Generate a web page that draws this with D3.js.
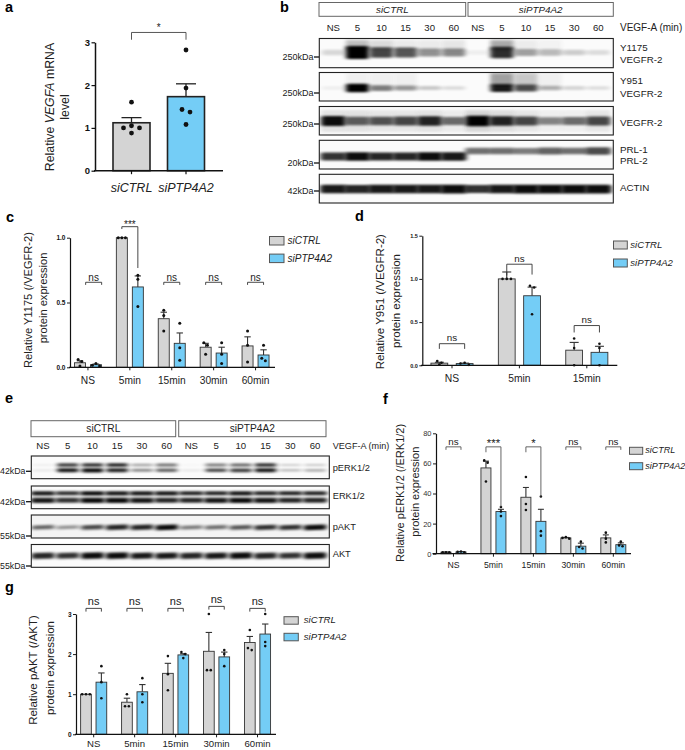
<!doctype html>
<html lang="en">
<head>
<meta charset="utf-8" />
<title>Figure</title>
<style>
    html, body { margin: 0; background: #fff; }
    svg { display: block; }
    text { font-family: "Liberation Sans", Arial, sans-serif; fill: #222; }
</style>
<script src="https://cdnjs.cloudflare.com/ajax/libs/d3/7.8.5/d3.min.js"></script>
</head>
<body>
<svg id="fig" width="685" height="750"></svg>
<script>
const series = ["siCTRL", "siPTP4A2"];
const lanes = ["NS", "5", "10", "15", "30", "60", "NS ", "5 ", "10 ", "15 ", "30 ", "60 "];
const timesLong = ["NS", "5min", "15min", "30min", "60min"];
const timesShort = ["NS", "5min", "15min"];

// panel a
const aMeans = [1.12, 1.73];
const aErr = [0.12, 0.3];
const aPoints = [[1.6, 1.05, 1.0, 1.0, 0.88], [2.82, 1.93, 1.43, 1.37, 1.08]];
const aSig = ["*"];
const aSigTop = [3.23];
const aSigLeft = [3.06];
const aSigRight = [3.06];

// panel c
const cCtrl = [0.035, 1.0, 0.375, 0.155, 0.165];
const cSi = [0.02, 0.62, 0.185, 0.11, 0.095];
const cCtrlErr = [0.015, 0, 0.05, 0.03, 0.07];
const cSiErr = [0.005, 0.085, 0.08, 0.045, 0.04];
const cCtrlPts = [[0.06, 0.045, 0.01], [1, 1, 1], [0.44, 0.4, 0.28], [0.19, 0.17, 0.1], [0.28, 0.17, 0.04]];
const cSiPts = [[0.03, 0.015, 0.01], [0.71, 0.68, 0.47], [0.34, 0.15, 0.055], [0.19, 0.1, 0.03], [0.17, 0.07, 0.05]];
const cSig = ["ns", "***", "ns", "ns", "ns"];
const cSigTop = [0.656, 1.085, 0.656, 0.656, 0.656];
const cSigLeft = [0.636, 1.067, 0.636, 0.636, 0.636];
const cSigRight = [0.636, 0.766, 0.636, 0.636, 0.636];

// panel d
const dCtrl = [0.025, 1.0, 0.175];
const dSi = [0.02, 0.805, 0.15];
const dCtrlErr = [0.01, 0.08, 0.09];
const dSiErr = [0.005, 0.1, 0.07];
const dCtrlPts = [[0.05, 0.03, 0.01], [1, 1, 1], [0.31, 0.2, 0]];
const dSiPts = [[0.03, 0.02, 0.005], [0.92, 0.9, 0.59], [0.25, 0.2, 0]];
const dSig = ["ns", "ns", "ns"];
const dSigTop = [0.25, 1.17, 0.46];
const dSigLeft = [0.19, 1.04, 0.38];
const dSigRight = [0.19, 1.05, 0.38];

// panel f
const fCtrl = [1, 57, 37.5, 10.5, 10.5];
const fSi = [1.2, 28, 21.5, 5, 6];
const fCtrlErr = [0.1, 4.5, 6.5, 0.3, 2];
const fSiErr = [0.2, 1.5, 8, 2, 1.2];
const fCtrlPts = [[1, 1, 1], [62, 60.5, 48], [51, 33, 29], [11, 10.5, 10], [14, 10, 7.5]];
const fSiPts = [[1.5, 1.2, 1], [31, 28, 25], [38, 15, 12], [8, 4.5, 3.5], [8, 5.5, 5]];
const fSig = ["ns", "***", "*", "ns", "ns"];
const fSigTop = [71, 71, 71, 71, 71];
const fSigLeft = [69, 67.4, 67.4, 69, 69];
const fSigRight = [69, 31, 38, 69, 69];

// panel g
const gCtrl = [1.0, 0.8, 1.52, 2.07, 2.29];
const gSi = [1.3, 1.06, 1.98, 1.93, 2.5];
const gCtrlErr = [0, 0.1, 0.25, 0.47, 0.15];
const gSiErr = [0.23, 0.18, 0.03, 0.12, 0.25];
const gCtrlPts = [[1, 1, 1], [1.0, 0.7, 0.7], [1.95, 1.5, 1.1], [3.0, 1.6, 1.6], [2.6, 2.15, 2.1]];
const gSiPts = [[1.7, 1.3, 0.9], [1.4, 1.0, 0.8], [2.05, 2.0, 1.9], [2.1, 2.0, 1.7], [3.0, 2.3, 2.2]];
const gSig = ["ns", "ns", "ns", "ns", "ns"];
const gSigTop = [3.14, 3.14, 3.14, 3.19, 3.14];
const gSigLeft = [3.06, 3.06, 3.06, 3.11, 3.06];
const gSigRight = [3.06, 3.06, 3.06, 3.11, 3.06];

// blot band strengths per lane (0 = none, 1 = saturated), read by eye
const bY1175 = [0.14, 1, 0.72, 0.66, 0.42, 0.46, 0.05, 0.82, 0.36, 0.26, 0.18, 0.12];
const bY1175Smear = [0, 0.3, 0.16, 0.08, 0.08, 0.1, 0, 0.4, 0.07, 0.04, 0, 0];
const bY951 = [0.05, 1, 0.5, 0.4, 0.2, 0.13, 0, 0.9, 0.7, 0.3, 0.15, 0.12];
const bY951Smear = [0, 0.05, 0.05, 0.05, 0, 0, 0, 0.45, 0.25, 0.05, 0, 0];
const bVegfr = [0.95, 0.6, 0.65, 0.7, 0.85, 0.55, 1, 0.85, 0.7, 0.45, 0.55, 0.7];
const bVegfrSmear = [0.12, 0.12, 0.1, 0.1, 0.12, 0.08, 0.18, 0.14, 0.1, 0.06, 0.06, 0.1];
const bPrl = [0.8, 0.95, 0.85, 0.85, 0.95, 0.9, 0.55, 0.55, 0.5, 0.6, 0.55, 0.7];
const bActin = [0.9, 0.85, 0.9, 0.9, 0.9, 0.95, 0.8, 0.9, 0.95, 0.95, 0.95, 0.95];
const ePerkUp = [0.05, 0.75, 0.8, 0.85, 0.35, 0.55, 0.02, 0.5, 0.6, 0.8, 0.18, 0.2];
const ePerkLow = [0.08, 0.9, 0.95, 0.85, 0.45, 0.6, 0.08, 0.7, 0.75, 0.9, 0.25, 0.3];
const eErkUp = [0.9, 0.8, 0.95, 0.9, 0.9, 0.9, 0.85, 0.85, 0.9, 0.85, 0.85, 0.85];
const eErkLow = [0.9, 0.8, 0.95, 0.95, 0.9, 0.85, 0.85, 0.9, 0.95, 0.9, 0.85, 0.85];
const ePakt = [0.6, 0.4, 0.7, 0.85, 0.85, 0.95, 0.5, 0.55, 0.65, 0.8, 0.8, 0.95];
const eAkt = [0.85, 0.8, 0.95, 0.95, 0.9, 0.9, 0.85, 0.9, 0.95, 0.85, 0.8, 0.95];

const GREY = "#d4d4d4", BLUE = "#74cdf6";
const svg = d3.select("#fig");
const defs = svg.append("defs");
defs.append("filter").attr("id", "soft").attr("x", "-30%").attr("y", "-100%").attr("width", "160%").attr("height", "300%")
    .append("feGaussianBlur").attr("stdDeviation", "2.4 0.8");
defs.append("filter").attr("id", "haze").attr("x", "-30%").attr("y", "-50%").attr("width", "160%").attr("height", "200%")
    .append("feGaussianBlur").attr("stdDeviation", "2 1.5");

function label(x, y, str, size, opt = {}) {
    return svg.append("text").attr("x", x).attr("y", y).attr("font-size", size)
        .attr("text-anchor", opt.anchor || "start")
        .attr("font-weight", opt.weight || null)
        .attr("font-style", opt.style || null)
        .text(str);
}

function yTitle(x, yc, size, parts) {
    const t = svg.append("text").attr("transform", `translate(${x},${yc}) rotate(-90)`)
        .attr("text-anchor", "middle").attr("font-size", size);
    parts.forEach(p => t.append("tspan").attr("font-style", p[1] ? "italic" : null).text(p[0]));
}

// spreads points of nearly the same height sideways, the way the plotting software does
function swarm(values, y, thr, d) {
    const out = [];
    let group = [];
    const flush = () => {
        const off = group.length === 1 ? [0] : group.length === 2 ? [-d / 2, d / 2] : [0, -d, d, -2 * d, 2 * d];
        group.forEach((v, i) => out.push({ v, dx: off[i] }));
        group = [];
    };
    values.forEach(v => {
        if (group.length && Math.abs(y(group[0]) - y(v)) > thr) flush();
        group.push(v);
    });
    flush();
    return out;
}

function barPanel(o) {
    const g = svg.append("g");
    const y = d3.scaleLinear().domain([0, o.yMax]).range([o.yBase, o.yTop]);
    const x = d3.scaleBand().domain(o.groups).range(o.xRange);
    const cx = name => x(name) + x.bandwidth() / 2;
    const half = (o.sep + o.barW) / 2;
    const inner = o.sep ? d3.scaleBand().domain(series).range([-half, half]).paddingInner(1 - o.barW / o.sep) : null;
    const rows = [];
    if (inner) {
        o.groups.forEach((name, i) => series.forEach((s, j) => rows.push({
            name, s, mean: o.means[j][i], err: o.errs[j][i], pts: o.pts[j][i]
        })));
    } else {
        o.groups.forEach((s, i) => rows.push({ name: s, s, mean: o.means[i], err: o.errs[i], pts: o.pts[i] }));
    }
    const barX = d => inner ? cx(d.name) + inner(d.s) : cx(d.name) - o.barW / 2;
    const mid = d => barX(d) + o.barW / 2;

    // error bars, upper half only
    const eb = g.selectAll(".eb").data(rows.filter(d => d.err > 0)).join("g")
        .attr("stroke", o.errStroke || o.barStroke).attr("stroke-width", o.errW);
    eb.append("line").attr("x1", mid).attr("x2", mid).attr("y1", d => y(d.mean)).attr("y2", d => y(d.mean + d.err));
    eb.append("line").attr("x1", d => mid(d) - o.cap).attr("x2", d => mid(d) + o.cap)
        .attr("y1", d => y(d.mean + d.err)).attr("y2", d => y(d.mean + d.err));

    g.selectAll(".bar").data(rows).join("rect")
        .attr("x", barX).attr("y", d => y(d.mean))
        .attr("width", o.barW).attr("height", d => y(0) - y(d.mean))
        .attr("fill", d => d.s === series[0] ? GREY : BLUE)
        .attr("stroke", o.barStroke).attr("stroke-width", o.barLine);

    rows.forEach(d => {
        g.selectAll(null).data(swarm(d.pts, y, o.thr, o.spread)).join("circle")
            .attr("cx", p => mid(d) + p.dx).attr("cy", p => y(p.v)).attr("r", o.r).attr("fill", "#111");
    });

    // axes
    const ya = g.append("g").attr("transform", `translate(${o.x0},0)`)
        .call(d3.axisLeft(y).tickValues(o.ticks).tickFormat(o.fmt).tickSize(o.tick).tickPadding(1.5).tickSizeOuter(0));
    ya.select(".domain").attr("stroke", "#111").attr("stroke-width", o.axisW);
    ya.selectAll("line").attr("stroke", "#111").attr("stroke-width", o.axisW * 0.8);
    ya.selectAll("text").attr("font-size", o.yFont).attr("font-weight", o.yBold ? "bold" : null)
        .style("font-family", "Liberation Sans").style("fill", o.yColor || "#111");

    const xa = g.append("g").attr("transform", `translate(0,${o.yBase})`)
        .call(d3.axisBottom(x).tickSize(o.tick).tickPadding(o.xPad).tickSizeOuter(0));
    xa.select(".domain").remove();
    xa.selectAll("line").attr("stroke", "#111").attr("stroke-width", o.axisW * 0.8);
    xa.selectAll("text").attr("font-size", o.xFont).attr("font-style", o.xItalic ? "italic" : null)
        .style("font-family", "Liberation Sans").style("fill", "#222");
    g.append("line").attr("x1", o.xStart).attr("x2", o.xEnd).attr("y1", o.yBase).attr("y2", o.yBase)
        .attr("stroke", "#111").attr("stroke-width", o.axisW);

    // significance brackets
    o.sig.forEach((s, i) => {
        let xl, xr;
        if (inner) {
            const name = o.groups[i];
            const shift = o.sigShift ? o.sigShift[i] : 0;
            xl = cx(name) + inner(series[0]) + o.barW / 2 + shift;
            xr = cx(name) + inner(series[1]) + o.barW / 2 + shift;
        } else {
            xl = cx(o.groups[0]);
            xr = cx(o.groups[1]);
        }
        g.append("path")
            .attr("d", `M${xl},${y(o.sigLeft[i])}V${y(o.sigTop[i])}H${xr}V${y(o.sigRight[i])}`)
            .attr("fill", "none").attr("stroke", o.sigStroke || "#333").attr("stroke-width", 0.9);
        const star = s.includes("*");
        g.append("text").attr("x", (xl + xr) / 2).attr("y", y(o.sigTop[i]) - (star ? o.starGap : o.nsGap))
            .attr("text-anchor", "middle").attr("font-size", star ? o.starFont : o.nsFont).text(s);
    });

    if (o.legend) {
        const l = o.legend;
        series.forEach((s, j) => {
            g.append("rect").attr("x", l.x).attr("y", l.y + j * l.dy).attr("width", l.w).attr("height", l.h)
                .attr("fill", j ? BLUE : GREY).attr("stroke", "#555").attr("stroke-width", 1);
            g.append("text").attr("x", l.x + l.w + l.gap).attr("y", l.y + j * l.dy + l.h - 1)
                .attr("font-size", l.font).attr("font-style", "italic").text(s);
        });
    }
}

let clipCount = 0;
function blot(box, bands, laneX) {
    const id = "clip" + (++clipCount);
    svg.append("clipPath").attr("id", id).append("rect")
        .attr("x", box.x0).attr("y", box.y0).attr("width", box.x1 - box.x0).attr("height", box.y1 - box.y0);
    const g = svg.append("g").attr("clip-path", `url(#${id})`);
    g.append("rect").attr("x", box.x0).attr("y", box.y0).attr("width", box.x1 - box.x0).attr("height", box.y1 - box.y0)
        .attr("fill", box.bg || "#fbfbfb");
    bands.forEach(b => {
        const h = d3.scaleLinear().domain([0, 1]).range([b.hMin, b.hMax]);
        const w = laneX.step() * (b.wide || 0.95);
        const yOf = i => b.yAt ? b.yAt(i) : b.y;
        if (b.smear) {
            g.selectAll(null).data(b.smear).join("rect")
                .attr("x", (d, i) => laneX(lanes[i]) - w / 2)
                .attr("y", b.smearY).attr("width", w).attr("height", b.smearH)
                .attr("fill", "#333").attr("opacity", d => d).attr("filter", "url(#haze)");
        }
        g.selectAll(null).data(b.values).join("rect")
            .attr("x", (d, i) => laneX(lanes[i]) - w / 2)
            .attr("y", (d, i) => yOf(i) - h(d) / 2)
            .attr("width", w).attr("height", d => h(d)).attr("rx", 2)
            .attr("transform", (d, i) => b.tilt ? `rotate(${b.tilt},${laneX(lanes[i])},${yOf(i)})` : null)
            .attr("fill", "#000").attr("opacity", d => d).attr("filter", "url(#soft)");
    });
    svg.append("rect").attr("x", box.x0).attr("y", box.y0).attr("width", box.x1 - box.x0).attr("height", box.y1 - box.y0)
        .attr("fill", "none").attr("stroke", "#222").attr("stroke-width", 1.1);
}

function kda(x1, y, str, size) {
    label(x1 - 5.5, y + size * 0.35, str, size, { anchor: "end" });
    svg.append("line").attr("x1", x1 - 5).attr("x2", x1).attr("y1", y).attr("y2", y).attr("stroke", "#111").attr("stroke-width", 1.3);
}

function header(x0, x1, y0, y1, str, size, italic) {
    svg.append("rect").attr("x", x0).attr("y", y0).attr("width", x1 - x0).attr("height", y1 - y0)
        .attr("fill", "none").attr("stroke", "#666").attr("stroke-width", 1);
    label((x0 + x1) / 2, (y0 + y1) / 2 + size * 0.35, str, size, { anchor: "middle", style: italic ? "italic" : null });
}

// panel letters
[["a", 5, 12], ["b", 280, 12], ["c", 6, 222], ["d", 355, 221], ["e", 5, 403], ["f", 383, 404], ["g", 5, 592]]
    .forEach(p => label(p[1], p[2], p[0], 14.5, { weight: "bold" }).style("fill", "#000"));

// a
barPanel({
    groups: series, means: aMeans, errs: aErr, pts: aPoints,
    x0: 95, xStart: 94, xEnd: 223, xRange: [104.25, 213.25], yBase: 170.7, yTop: 42.3, yMax: 3,
    ticks: [0, 1, 2, 3], fmt: d3.format("d"), sep: 0, barW: 37, cap: 10, r: 2.4,
    barStroke: "#222", errW: 1.3, barLine: 1.6, thr: 3, spread: 8, tick: 3.5, axisW: 1.5,
    yFont: 9.5, yBold: true, xFont: 12.5, xItalic: true, xPad: 9,
    sig: aSig, sigTop: aSigTop, sigLeft: aSigLeft, sigRight: aSigRight, starGap: 1.7, starFont: 10, sigStroke: "#444"
});
yTitle(54, 107, 12.3, [["Relative "], ["VEGFA", true], [" mRNA"]]);
yTitle(69, 107, 12.3, [["level"]]);

// c
barPanel({
    groups: timesLong, means: [cCtrl, cSi], errs: [cCtrlErr, cSiErr], pts: [cCtrlPts, cSiPts],
    x0: 70, xStart: 69, xEnd: 275, xRange: [67, 276.5], yBase: 367.3, yTop: 237.7, yMax: 1,
    ticks: [0, 0.5, 1], fmt: d3.format(".1f"), sep: 16, barW: 11, cap: 3.2, r: 1.5,
    barStroke: "#333", errW: 1.1, barLine: 0.9, thr: 2.8, spread: 3.6, tick: 3, axisW: 1.2,
    yFont: 6.5, yBold: true, xFont: 10.2, xPad: 6,
    sig: cSig, sigTop: cSigTop, sigLeft: cSigLeft, sigRight: cSigRight, sigShift: [5.7, 0, 0, 0, 0],
    nsGap: 1.5, nsFont: 10, starGap: -1.5, starFont: 10,
    legend: { x: 269.5, y: 236.5, w: 14.5, h: 8.5, dy: 17.6, gap: 3.5, font: 10 }
});
yTitle(31.5, 300, 11.1, [["Relative Y1175 (/VEGFR-2)"]]);
yTitle(46.5, 298, 11.1, [["protein expression"]]);

// d
barPanel({
    groups: timesShort, means: [dCtrl, dSi], errs: [dCtrlErr, dSiErr], pts: [dCtrlPts, dSiPts],
    x0: 422.3, xStart: 421, xEnd: 617.3, xRange: [418.3, 620.5], yBase: 365.3, yTop: 235.7, yMax: 1.5,
    ticks: [0, 0.5, 1, 1.5], fmt: d3.format(".1f"), sep: 25.3, barW: 16.8, cap: 4.5, r: 1.3,
    barStroke: "#333", errW: 1.1, barLine: 0.9, thr: 2.8, spread: 4.2, tick: 3, axisW: 1.2,
    yFont: 5.5, yBold: true, xFont: 10.3, xPad: 6,
    sig: dSig, sigTop: dSigTop, sigLeft: dSigLeft, sigRight: dSigRight, nsGap: 2.5, nsFont: 9.8,
    legend: { x: 613.5, y: 241, w: 13.8, h: 8, dy: 18, gap: 3, font: 9.6 }
});
yTitle(383.5, 301.7, 11.5, [["Relative Y951 (/VEGFR-2)"]]);
yTitle(400, 301, 11.5, [["protein expression"]]);

// f
barPanel({
    groups: timesLong, means: [fCtrl, fSi], errs: [fCtrlErr, fSiErr], pts: [fCtrlPts, fSiPts],
    x0: 436, xStart: 432.5, xEnd: 631, xRange: [433.5, 633.3], yBase: 553.7, yTop: 433.3, yMax: 80,
    ticks: [0, 20, 40, 60, 80], fmt: d3.format("d"), sep: 15, barW: 10, cap: 3, r: 1.3,
    barStroke: "#333", errW: 1.1, barLine: 0.9, thr: 2.6, spread: 3.4, tick: 3, axisW: 1.2,
    yFont: 7.5, yColor: "#333", xFont: 8.7, xPad: 5,
    sig: fSig, sigTop: fSigTop, sigLeft: fSigLeft, sigRight: fSigRight, sigStroke: "#555",
    nsGap: 2, nsFont: 9.8, starGap: 0, starFont: 11.4,
    legend: { x: 629.5, y: 447.3, w: 13.2, h: 7, dy: 15.4, gap: 2.5, font: 9 }
});
yTitle(404, 493, 11, [["Relative pERK1/2 (/ERK1/2)"]]);
yTitle(419, 491.7, 11, [["protein expression"]]);

// g
barPanel({
    groups: timesLong, means: [gCtrl, gSi], errs: [gCtrlErr, gSiErr], pts: [gCtrlPts, gSiPts],
    x0: 76, xStart: 75, xEnd: 276, xRange: [73.2, 278], yBase: 734.3, yTop: 614, yMax: 3,
    ticks: [0, 1, 2, 3], fmt: d3.format("d"), sep: 15.4, barW: 10.7, cap: 3.2, r: 1.3,
    barStroke: "#333", errW: 1.1, barLine: 0.9, thr: 2.4, spread: 3.8, tick: 3, axisW: 1.2,
    yFont: 6.5, yBold: true, xFont: 9.6, xPad: 2.5,
    sig: gSig, sigTop: gSigTop, sigLeft: gSigLeft, sigRight: gSigRight, nsGap: 3.5, nsFont: 11,
    legend: { x: 284, y: 616.7, w: 14.3, h: 7.5, dy: 16.6, gap: 5.5, font: 9.6 }
});
yTitle(37, 670, 11.5, [["Relative pAKT (/AKT)"]]);
yTitle(54, 668, 11.5, [["protein expression"]]);

// b: header and lanes
header(319, 465.7, 2.5, 16.3, "siCTRL", 9.8, true);
header(468, 613.3, 2.5, 16.3, "siPTP4A2", 9.8, true);
const bLane = d3.scalePoint().domain(lanes).range([333.3, 598.3]);
lanes.forEach(l => label(bLane(l), 30.5, l.trim(), 9.6, { anchor: "middle" }));
label(620, 30.5, "VEGF-A (min)", 10);

const bX0 = 319.3, bX1 = 613.3;
blot({ x0: bX0, x1: bX1, y0: 38.5, y1: 67.7 },
    [{ y: 52.5, values: bY1175, hMin: 4, hMax: 13, smear: bY1175Smear, smearY: 40, smearH: 10 }], bLane);
blot({ x0: bX0, x1: bX1, y0: 72.5, y1: 101 },
    [{ y: 88, values: bY951, hMin: 3, hMax: 8.5, smear: bY951Smear, smearY: 73, smearH: 13 }], bLane);
blot({ x0: bX0, x1: bX1, y0: 106.5, y1: 135 },
    [{ y: 121, values: bVegfr, hMin: 5, hMax: 10.5, wide: 1, smear: bVegfrSmear, smearY: 110, smearH: 22 }], bLane);
blot({ x0: bX0, x1: bX1, y0: 140.3, y1: 169 },
    [{ yAt: i => i < 6 ? 156.5 : 151, values: bPrl, hMin: 3.5, hMax: 9, wide: 1.05 }], bLane);
blot({ x0: bX0, x1: bX1, y0: 174.3, y1: 203 },
    [{ y: 189, values: bActin, hMin: 4, hMax: 9, wide: 1.08 }], bLane);

kda(319, 57, "250kDa", 9);
kda(319, 93, "250kDa", 9);
kda(319, 124, "250kDa", 9);
kda(319, 163, "20kDa", 9);
kda(319, 191, "42kDa", 9);

[["Y1175", 50.5], ["VEGFR-2", 62.5], ["Y951", 83.5], ["VEGFR-2", 96.5], ["VEGFR-2", 125.5],
 ["PRL-1", 152.5], ["PRL-2", 163.5], ["ACTIN", 190.5]]
    .forEach(p => label(620, p[1], p[0], 9.8));

// e: header and lanes
header(31, 175.7, 420.7, 436.7, "siCTRL", 10.2);
header(178.7, 326, 420.7, 436.7, "siPTP4A2", 10.2);
const eLane = d3.scalePoint().domain(lanes).range([43, 315]);
lanes.forEach(l => label(eLane(l), 449, l.trim(), 9.6, { anchor: "middle" }));
label(332.7, 449, "VEGF-A (min)", 9.1);

const eX0 = 31.3, eX1 = 329.3;
blot({ x0: eX0, x1: eX1, y0: 456, y1: 478.7 },
    [{ y: 465, values: ePerkUp, hMin: 1.8, hMax: 4, wide: 0.88 }, { y: 470.3, values: ePerkLow, hMin: 2, hMax: 4.3, wide: 0.88 }], eLane);
blot({ x0: eX0, x1: eX1, y0: 486, y1: 508.7 },
    [{ y: 493.3, values: eErkUp, hMin: 2, hMax: 4.4, wide: 0.98 }, { y: 500.3, values: eErkLow, hMin: 2.5, hMax: 5.5, wide: 0.98 }], eLane);
blot({ x0: eX0, x1: eX1, y0: 515, y1: 538, bg: "#f4f4f4" },
    [{ y: 527.3, values: ePakt, hMin: 2, hMax: 5.5, wide: 0.92, tilt: -2 }], eLane);
blot({ x0: eX0, x1: eX1, y0: 544.5, y1: 567.3 },
    [{ y: 555.7, values: eAkt, hMin: 3, hMax: 6.5, wide: 0.92, tilt: -1.5 }], eLane);

kda(31, 471.3, "42kDa", 8.8);
kda(31, 501.7, "42kDa", 8.8);
kda(31, 536, "55kDa", 8.8);
kda(31, 566, "55kDa", 8.8);

[["pERK1/2", 471], ["ERK1/2", 498.5], ["pAKT", 530], ["AKT", 556.5]]
    .forEach(p => label(332.7, p[1], p[0], 9.3));
</script>
</body>
</html>
